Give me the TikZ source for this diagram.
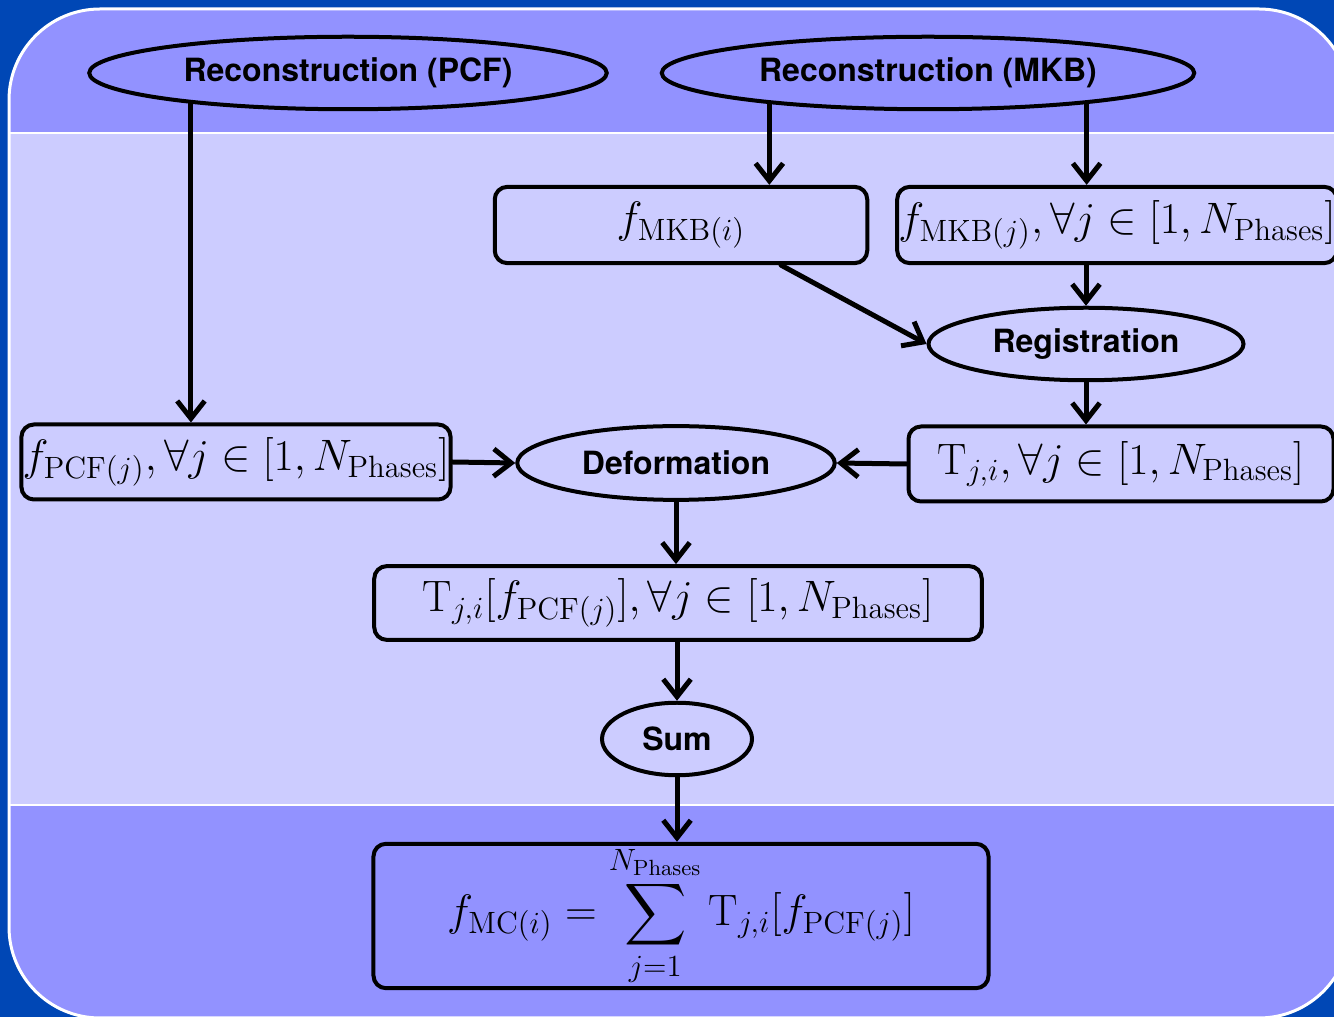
\documentclass[tikz,border=0pt]{standalone}
\usepackage{fix-cm}
\usepackage{amsmath}
\usepackage{fontspec}
\setsansfont{TeX Gyre Heros}
\usetikzlibrary{shapes.geometric,arrows.meta}
\definecolor{deepblue}{RGB}{0,71,181}
\definecolor{bandtop}{RGB}{146,146,255}
\definecolor{bandmid}{RGB}{204,204,255}
\tikzset{
  stage/.style={ellipse, draw, line width=1.6pt, inner sep=0pt,
    font=\sffamily\bfseries\fontsize{12.8}{14}\selectfont},
  formula/.style={rectangle, rounded corners=5pt, draw, line width=1.6pt, inner sep=0.5pt,
    font=\fontsize{17.6}{21}\selectfont},
  flow/.style={line width=2pt, line cap=round, line join=round,
    -{Straight Barb[length=7pt,width=11pt,line width=2pt]}}
}
\begin{document}
\begin{tikzpicture}[x=0.4pt, y=-0.4pt]
    \def\R{36.4pt}
    \def\mph{N_{\mathrm{Phases}}}

    \clip (0,0) rectangle (1334,1017);
    \fill[deepblue] (0,0) rectangle (1334,1017);
    % panel
    \begin{scope}
    \clip[rounded corners=\R] (9,9) rectangle (1350,1018);
    \fill[bandtop] (9,9) rectangle (1350,1018);
    \fill[bandmid] (9,133) rectangle (1350,805);
    \draw[white, line width=0.9pt] (9,133) -- (1350,133);
    \draw[white, line width=0.9pt] (9,805) -- (1350,805);
    \end{scope}
    \draw[white, line width=1.2pt, rounded corners=\R] (9,9) rectangle (1350,1018);

    % nodes
    \node[stage, minimum width=207pt, minimum height=29pt] (pcf) at (348,73) {Reconstruction (PCF)};
    \node[stage, minimum width=213pt, minimum height=29pt] (mkb) at (928,73) {Reconstruction (MKB)};
    \node[formula, minimum width=149pt, minimum height=30.5pt] (fmkbi) at (681,225) {$f_{\mathrm{MKB}(i)}$};
    \node[formula, minimum width=173pt, minimum height=30.5pt] (fmkbj) at (1117,225) {$f_{\mathrm{MKB}(j)}, \forall j \in [1, \mph]$};
    \node[stage, minimum width=126pt, minimum height=29pt] (reg) at (1086,344) {Registration};
    \node[formula, minimum width=170pt, minimum height=30pt] (fpcf) at (236,462) {$f_{\mathrm{PCF}(j)}, \forall j \in [1, \mph]$};
    \node[stage, minimum width=127pt, minimum height=29.5pt] (def) at (676,463) {Deformation};
    \node[formula, minimum width=170pt, minimum height=30pt] (tji) at (1121,464) {$\mathrm{T}_{j,i}, \forall j \in [1, \mph]$};
    \node[formula, minimum width=243pt, minimum height=29.5pt] (tf) at (678,603) {$\mathrm{T}_{j,i}[f_{\mathrm{PCF}(j)}], \forall j \in [1, \mph]$};
    \node[stage, minimum width=60pt, minimum height=29pt] (sum) at (677,739) {Sum};
    \node[formula, minimum width=246pt, minimum height=53pt] (fmc) at (681,916)
        {$\displaystyle f_{\mathrm{MC}(i)} = \sum_{j=1}^{\mph} \mathrm{T}_{j,i}[f_{\mathrm{PCF}(j)}]$};

    % arrows
    \draw[flow] (pcf.191) -- (pcf.191 |- fpcf.north);
    \draw[flow] (mkb.191) -- (mkb.191 |- fmkbi.north);
    \draw[flow] (mkb.349) -- (mkb.349 |- fmkbj.north);
    \draw[flow] (reg.north |- fmkbj.south) -- (reg.north);
    \draw[flow] ([xshift=40pt]fmkbi.south) -- (reg.west);
    \draw[flow] (reg.south) -- (reg.south |- tji.north);
    \draw[flow] (fpcf.east) -- (def.west);
    \draw[flow] (tji.west) -- (def.east);
    \draw[flow] (def.south) -- (def.south |- tf.north);
    \draw[flow] (tf.south -| sum.north) -- (sum.north);
    \draw[flow] (sum.south) -- (sum.south |- fmc.north);
\end{tikzpicture}
\end{document}
